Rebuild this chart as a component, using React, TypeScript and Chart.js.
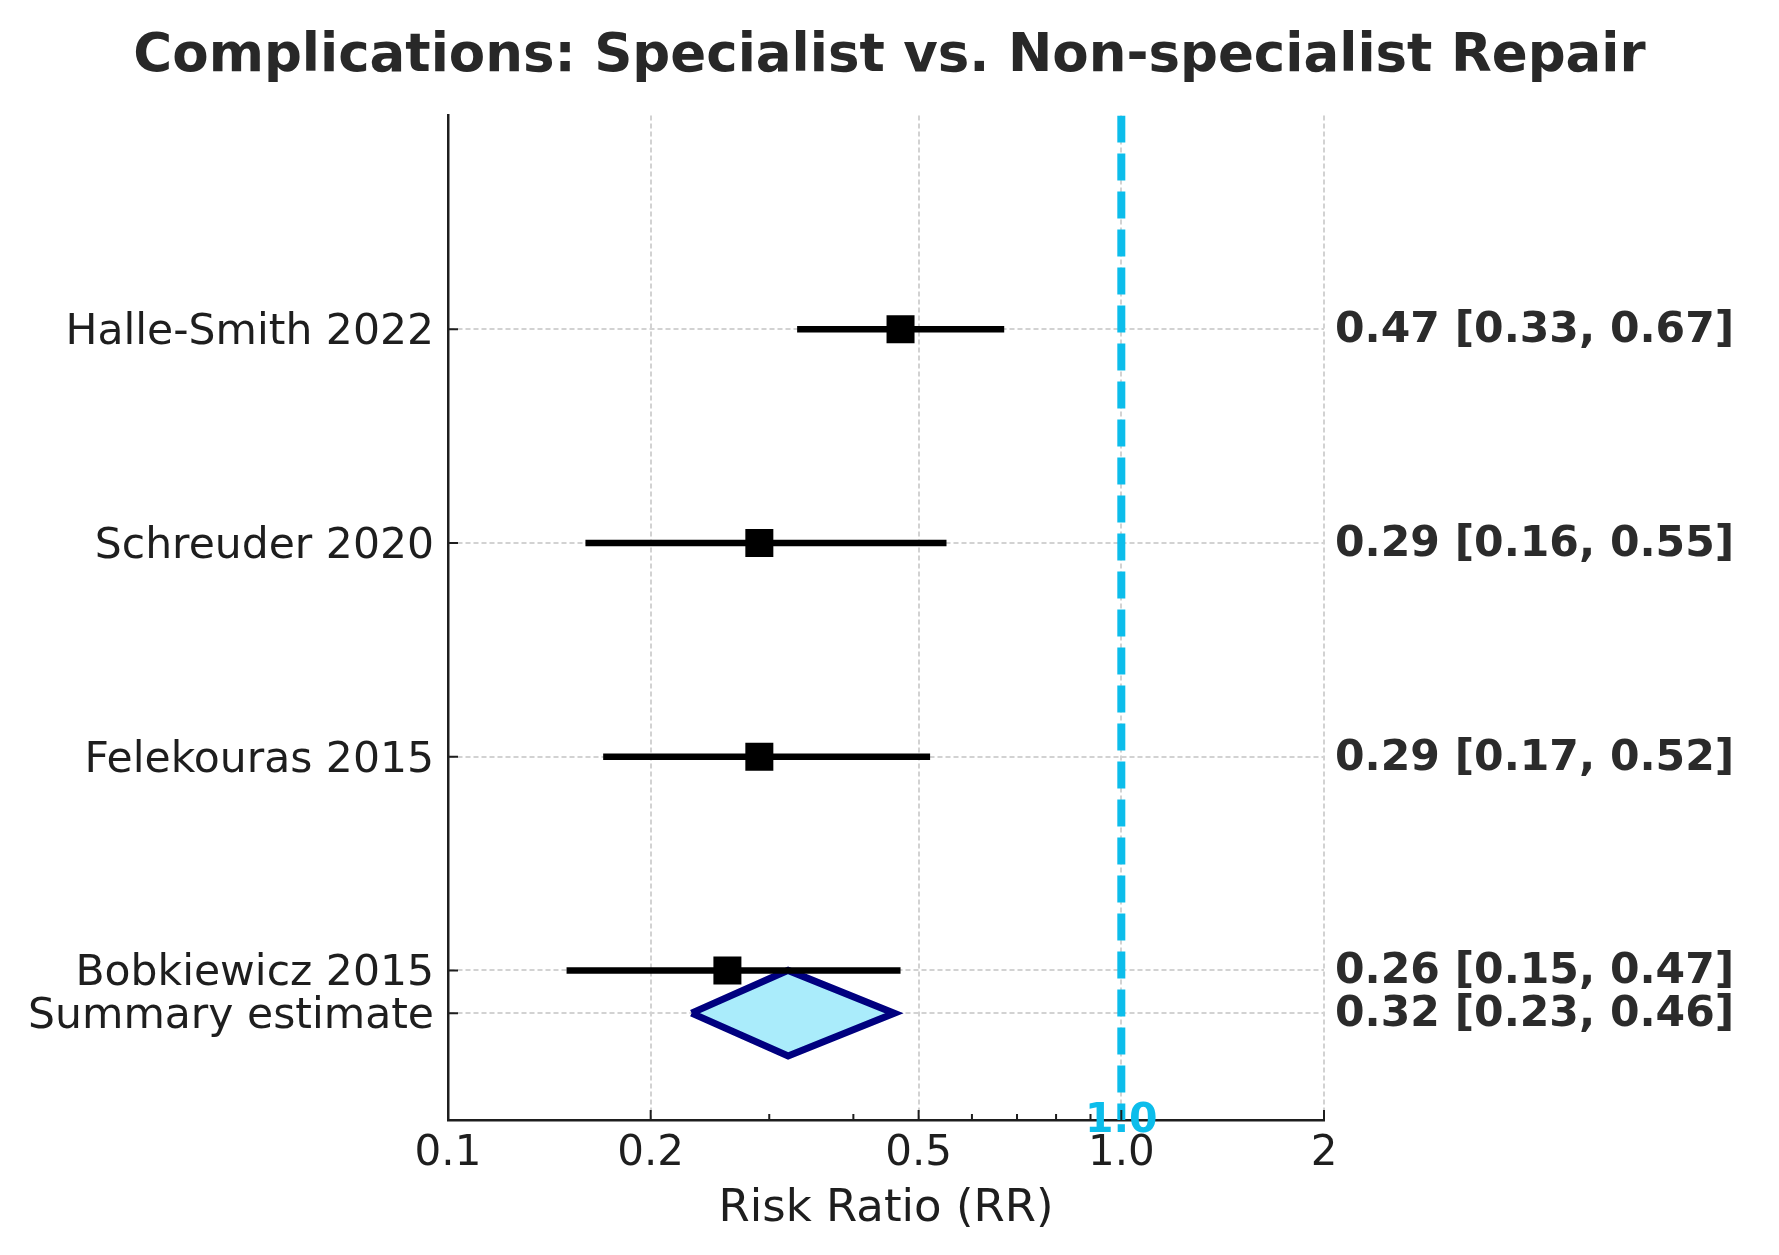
import React, { useEffect, useRef } from 'react';
import { Chart, registerables } from 'chart.js';

Chart.register(...registerables);

// ---------- data ----------
const chartTitle = 'Complications: Specialist vs. Non-specialist Repair';
const xAxisTitle = 'Risk Ratio (RR)';
const studies = ['Halle-Smith 2022', 'Schreuder 2020', 'Felekouras 2015', 'Bobkiewicz 2015'];
const studyY = [3, 2, 1, 0];
const rr = [0.47, 0.29, 0.29, 0.26];
const lower = [0.33, 0.16, 0.17, 0.15];
const upper = [0.67, 0.55, 0.52, 0.47];
const summaryLabel = 'Summary estimate';
const summaryY = -0.2;
const summaryHalfHeight = 0.2;
const summaryRR = 0.32;
const summaryLower = 0.23;
const summaryUpper = 0.46;
const nullValue = 1.0;
const nullLabel = '1.0';
const xMin = 0.1;
const xMax = 2;
const yMin = -0.7;
const yMax = 4;
const xTicks = [0.1, 0.2, 0.5, 1.0, 2];
const xTickLabels = ['0.1', '0.2', '0.5', '1.0', '2'];
const xMinorTicks = [0.3, 0.4, 0.6, 0.7, 0.8, 0.9];

const fmt = (v: number, lo: number, hi: number) =>
  `${v.toFixed(2)} [${lo.toFixed(2)}, ${hi.toFixed(2)}]`;

export default function App() {
  const ref = useRef<HTMLCanvasElement>(null);

  useEffect(() => {
    const canvas = ref.current;
    if (!canvas) return;
    const fontFamily = "'DejaVu Sans', 'Noto Sans', sans-serif";
    const rowY = [...studyY, summaryY];
    const rowLabels = [...studies, summaryLabel];
    const rowCI = [
      ...rr.map((v, i) => fmt(v, lower[i], upper[i])),
      fmt(summaryRR, summaryLower, summaryUpper),
    ];
    const cyan = '#0CBDEB';
    const gridColor = '#d2d2d2';
    const axisColor = '#1e1e1e';

    const ciDatasets = studies.map((s, i) => ({
      label: s + ' CI',
      data: [
        { x: lower[i], y: studyY[i] },
        { x: upper[i], y: studyY[i] },
      ],
      borderColor: '#000',
      borderWidth: 6.5,
      borderCapStyle: 'butt',
      pointRadius: 0,
      fill: false,
    }));

    const extras = {
      id: 'forestExtras',
      beforeDatasetsDraw(chart: any) {
        const { ctx, scales } = chart;
        const x = scales.x;
        const y = scales.y;
        ctx.save();
        ctx.fillStyle = cyan;
        ctx.font = `bold 41px ${fontFamily}`;
        ctx.textAlign = 'center';
        ctx.textBaseline = 'middle';
        ctx.fillText(nullLabel, x.getPixelForValue(nullValue), y.getPixelForValue(yMin) + 1);
        ctx.restore();
      },
      afterDraw(chart: any) {
        const { ctx, scales, chartArea } = chart;
        const x = scales.x;
        const y = scales.y;
        ctx.save();
        ctx.strokeStyle = axisColor;
        ctx.lineWidth = 2;
        ctx.beginPath();
        xTicks.forEach((v) => {
          const px = x.getPixelForValue(v);
          ctx.moveTo(px, chartArea.bottom);
          ctx.lineTo(px, chartArea.bottom - 10);
        });
        xMinorTicks.forEach((v) => {
          const px = x.getPixelForValue(v);
          ctx.moveTo(px, chartArea.bottom);
          ctx.lineTo(px, chartArea.bottom - 6);
        });
        rowY.forEach((v) => {
          const py = y.getPixelForValue(v);
          ctx.moveTo(chartArea.left, py);
          ctx.lineTo(chartArea.left + 10, py);
        });
        ctx.stroke();
        ctx.restore();
      },
    };

    const chart = new Chart(canvas, {
      type: 'line',
      data: {
        datasets: [
          {
            label: 'Studies',
            data: rr.map((v, i) => ({ x: v, y: studyY[i] })),
            showLine: false,
            pointStyle: 'rect',
            pointRadius: 19.8,
            pointHoverRadius: 19.8,
            pointBackgroundColor: '#000',
            pointBorderWidth: 0,
            borderColor: '#000',
          },
          ...ciDatasets,
          {
            label: 'Summary',
            data: [
              { x: summaryLower, y: summaryY },
              { x: summaryRR, y: summaryY + summaryHalfHeight },
              { x: summaryUpper, y: summaryY },
              { x: summaryRR, y: summaryY - summaryHalfHeight },
              { x: summaryLower, y: summaryY },
            ],
            borderColor: '#00007F',
            backgroundColor: '#AAECFB',
            borderWidth: 7,
            borderJoinStyle: 'miter',
            pointRadius: 0,
            fill: 'shape',
          },
          {
            label: 'No effect',
            data: [
              { x: nullValue, y: yMax },
              { x: nullValue, y: yMin },
            ],
            borderColor: cyan,
            borderWidth: 8,
            borderDash: [27, 11],
            borderCapStyle: 'butt',
            pointRadius: 0,
            fill: false,
          },
        ] as any,
      },
      options: {
        responsive: false,
        maintainAspectRatio: false,
        devicePixelRatio: 1,
        animation: false,
        events: [],
        layout: { padding: 0 },
        plugins: {
          legend: { display: false },
          tooltip: { enabled: false },
          title: {
            display: true,
            text: chartTitle,
            color: '#282828',
            font: { family: fontFamily, size: 53, weight: 'bold', lineHeight: 1.2 },
            padding: { top: 25, bottom: 27 },
          },
        },
        scales: {
          x: {
            type: 'logarithmic',
            min: xMin,
            max: xMax,
            afterBuildTicks: (s: any) => {
              s.ticks = xTicks.map((v) => ({ value: v }));
            },
            afterFit: (s: any) => {
              s.height = 135;
            },
            ticks: {
              autoSkip: false,
              maxRotation: 0,
              padding: 9,
              color: axisColor,
              font: { family: fontFamily, size: 42 },
              callback: (_v: any, i: number) => xTickLabels[i],
            },
            grid: { color: gridColor, lineWidth: 2, drawTicks: false },
            border: { display: true, color: axisColor, width: 2.5, dash: [5, 3] },
            title: {
              display: true,
              text: xAxisTitle,
              color: axisColor,
              font: { family: fontFamily, size: 45, lineHeight: 1.2 },
              padding: { top: 0, bottom: 19 },
            },
          },
          y: {
            type: 'linear',
            position: 'left',
            min: yMin,
            max: yMax,
            afterBuildTicks: (s: any) => {
              s.ticks = rowY.map((v) => ({ value: v }));
            },
            afterFit: (s: any) => {
              s.width = 448;
            },
            ticks: {
              autoSkip: false,
              padding: 14,
              labelOffset: 4,
              color: axisColor,
              font: { family: fontFamily, size: 42.5 },
              callback: (_v: any, i: number) => rowLabels[i],
            },
            grid: { color: gridColor, lineWidth: 2, drawTicks: false },
            border: { display: true, color: axisColor, width: 2.5, dash: [5, 3] },
          },
          y2: {
            type: 'linear',
            position: 'right',
            min: yMin,
            max: yMax,
            afterBuildTicks: (s: any) => {
              s.ticks = rowY.map((v) => ({ value: v }));
            },
            afterFit: (s: any) => {
              s.width = 455;
            },
            ticks: {
              autoSkip: false,
              padding: 11,
              labelOffset: 2,
              color: '#2b2b2b',
              font: { family: fontFamily, size: 42.5, weight: 'bold' },
              callback: (_v: any, i: number) => rowCI[i],
            },
            grid: { display: false, drawTicks: false },
            border: { display: false },
          },
        },
      } as any,
      plugins: [extras],
    });

    return () => chart.destroy();
  }, []);

  return (
    <div
      style={{
        position: 'fixed',
        left: 0,
        top: 0,
        width: 1779,
        height: 1255,
        background: '#fff',
      }}
    >
      <canvas
        ref={ref}
        width={1779}
        height={1255}
        style={{ display: 'block', width: 1779, height: 1255 }}
      />
    </div>
  );
}
